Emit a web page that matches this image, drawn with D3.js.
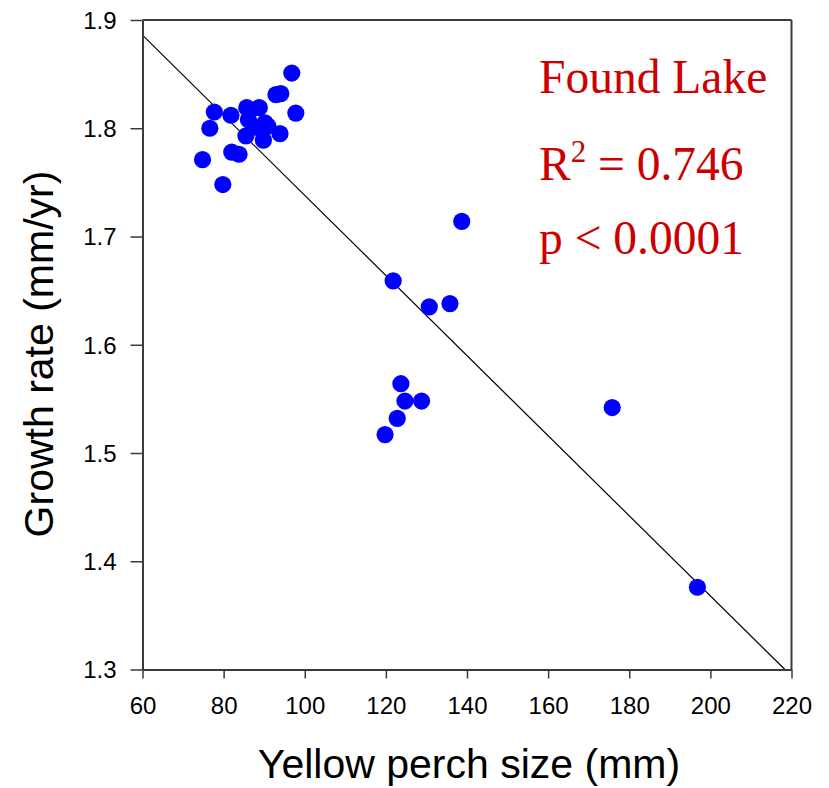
<!DOCTYPE html>
<html>
<head>
<meta charset="utf-8">
<script src="https://cdn.jsdelivr.net/npm/d3@7"></script>
<style>
  html, body { margin: 0; padding: 0; background: #fff; }
  svg { display: block; }
</style>
</head>
<body>
<svg id="chart" width="829" height="788"></svg>
<script>
// ---- data ----
const sizeMM = [74.8, 79.8, 76.6, 77.7, 81.8, 82.0, 83.8, 85.7, 86.1, 85.5, 88.8, 88.0, 90.2, 90.9, 89.8, 93.9, 92.9, 94.1, 96.8, 97.8,
                138.7, 121.8, 130.7, 135.8, 123.7, 124.7, 128.8, 122.8, 119.8, 175.8, 196.8];
const growth = [1.771, 1.748, 1.800, 1.815, 1.812, 1.778, 1.776, 1.819, 1.808, 1.793, 1.819, 1.801, 1.805, 1.802, 1.789, 1.795, 1.831, 1.832, 1.851, 1.814,
                1.714, 1.659, 1.635, 1.638, 1.564, 1.548, 1.548, 1.532, 1.517, 1.542, 1.376];
const xTicks = [60, 80, 100, 120, 140, 160, 180, 200, 220];
const yTicks = [1.3, 1.4, 1.5, 1.6, 1.7, 1.8, 1.9];
const xDomain = [60, 220];
const yDomain = [1.3, 1.9];
const fitIntercept = 2.108;
const fitSlope = -0.0037;
const annotation = ["Found Lake", "R", "2", " = 0.746", "p < 0.0001"];

// ---- layout ----
const L = 142.5, R = 791.5, T = 20, B = 669.5;
const svg = d3.select("#chart");
const x = d3.scaleLinear().domain(xDomain).range([L, R]);
const y = d3.scaleLinear().domain(yDomain).range([B, T]);
const axisColor = "#3a3a3a";

// regression line clipped to plot
const xEnd = Math.min(xDomain[1], (yDomain[0] - fitIntercept) / fitSlope);
const xStart = xDomain[0];
svg.append("line")
  .attr("x1", x(xStart)).attr("y1", y(fitIntercept + fitSlope * xStart))
  .attr("x2", x(xEnd)).attr("y2", y(fitIntercept + fitSlope * xEnd))
  .attr("stroke", "#000").attr("stroke-width", 1.2);

// points
svg.append("g").selectAll("circle")
  .data(sizeMM.map((v, i) => [v, growth[i]]))
  .join("circle")
  .attr("cx", d => x(d[0])).attr("cy", d => y(d[1]))
  .attr("r", 8.6).attr("fill", "#0000ff");

// frame (top & right)
svg.append("line").attr("x1", L).attr("x2", R).attr("y1", T).attr("y2", T)
  .attr("stroke", axisColor).attr("stroke-width", 2);
svg.append("line").attr("x1", R).attr("x2", R).attr("y1", T).attr("y2", B)
  .attr("stroke", axisColor).attr("stroke-width", 2);

// axes
const xAxis = d3.axisBottom(x).tickValues(xTicks).tickFormat(d3.format("d"))
  .tickSizeInner(9).tickSizeOuter(0).tickPadding(18);
const yAxis = d3.axisLeft(y).tickValues(yTicks).tickFormat(d3.format(".1f"))
  .tickSizeInner(12).tickSizeOuter(0).tickPadding(14);

const gx = svg.append("g").attr("transform", `translate(0,${B})`).call(xAxis);
const gy = svg.append("g").attr("transform", `translate(${L},0)`).call(yAxis);
[gx, gy].forEach(g => {
  g.select(".domain").attr("stroke", axisColor).attr("stroke-width", 2);
  g.selectAll(".tick line").attr("stroke", axisColor).attr("stroke-width", 1.5);
  g.selectAll(".tick text").attr("fill", "#000")
    .style("font-family", "Liberation Sans, Arial, sans-serif").style("font-size", "24px");
});
gy.selectAll(".tick text").attr("dy", "0.35em");

// axis titles
svg.append("text")
  .attr("x", 469).attr("y", 778)
  .attr("text-anchor", "middle")
  .style("font-family", "Liberation Sans, Arial, sans-serif").style("font-size", "41px")
  .text("Yellow perch size (mm)");
svg.append("text")
  .attr("transform", `translate(53,${354}) rotate(-90)`)
  .attr("text-anchor", "middle")
  .style("font-family", "Liberation Sans, Arial, sans-serif").style("font-size", "41px")
  .text("Growth rate (mm/yr)");

// annotation
const red = "#cc0000";
const ann = svg.append("g").style("font-family", "Liberation Serif, Times New Roman, serif")
  .style("font-size", "47.5px").attr("fill", red);
ann.append("text").attr("x", 539).attr("y", 93).text(annotation[0]);
const t2 = ann.append("text").attr("x", 539).attr("y", 180);
t2.append("tspan").text(annotation[1]);
t2.append("tspan").attr("dy", -18).style("font-size", "31px").text(annotation[2]);
t2.append("tspan").attr("dy", 18).text(annotation[3]);
ann.append("text").attr("x", 539).attr("y", 254).text(annotation[4]);
</script>
</body>
</html>
